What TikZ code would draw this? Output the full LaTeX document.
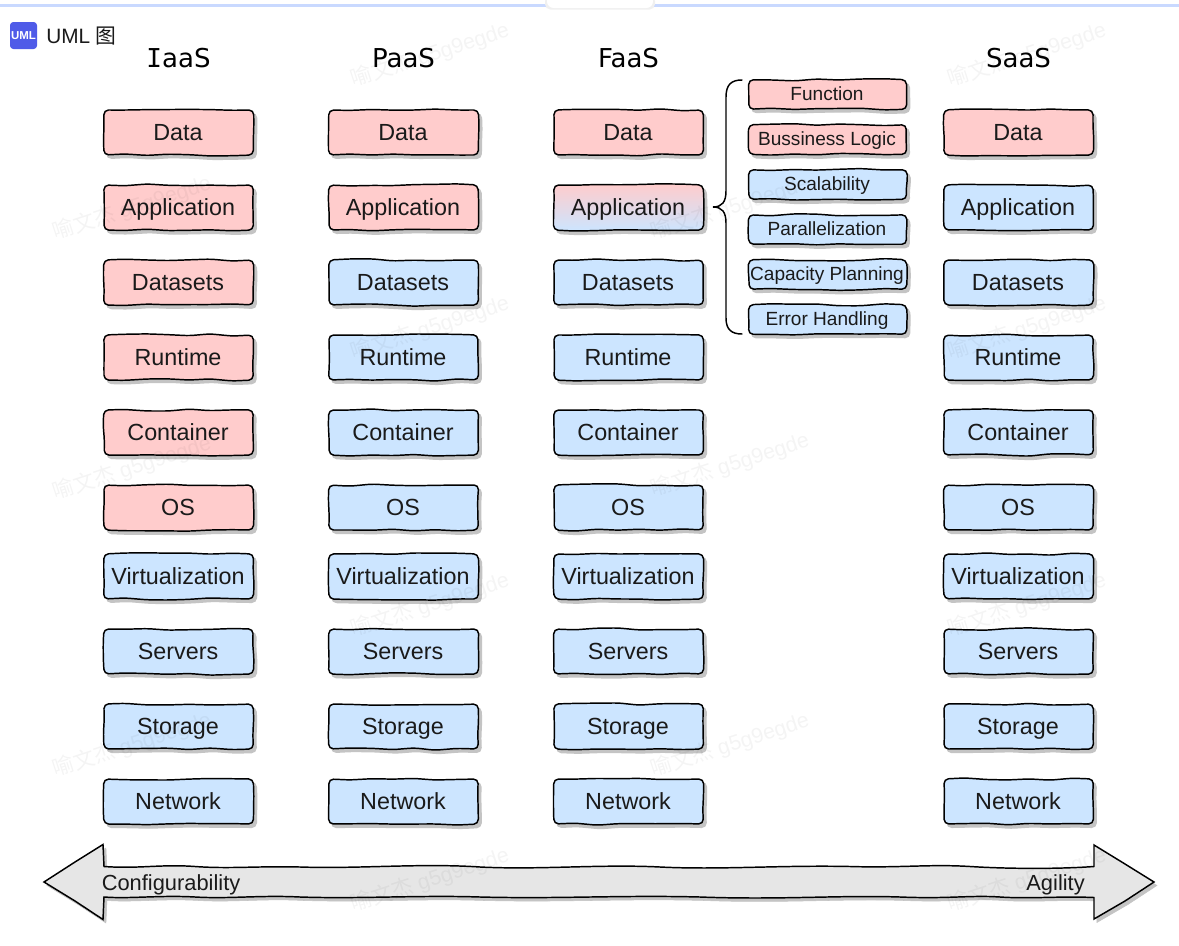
\documentclass[tikz,border=0pt]{standalone}
\usepackage{fontspec}
\setmainfont{Liberation Sans}
\newfontfamily\cjk{Noto Sans CJK SC}
\newfontfamily\titlefont{DejaVu Sans}
\newfontfamily\titlemono{DejaVu Sans Mono}
\usetikzlibrary{shadows,calc}
\definecolor{pinkc}{HTML}{FFCCCC}
\definecolor{bluec}{HTML}{CCE5FF}
\definecolor{greyc}{HTML}{E6E6E6}
\definecolor{shadowc}{HTML}{C4C4C4}
\definecolor{inkc}{HTML}{1A1A1A}
\definecolor{topline}{HTML}{C9D9FF}
\definecolor{badge}{HTML}{4F5BE8}
\tikzset{
  edge/.style={draw=black,line width=1.1pt,line join=round,rounded corners=3.5pt},
  shade off/.style={preaction={fill=shadowc,draw=shadowc,line width=1pt,
     transform canvas={shift={(2.2pt,-2.6pt)}}}},
  biglabel/.style={font=\fontsize{17.5pt}{20pt}\selectfont,text=inkc,inner sep=0pt,text height=12.5pt,text depth=3.5pt},
  smalllabel/.style={font=\fontsize{14.3pt}{18pt}\selectfont,text=inkc,inner sep=0pt,text height=11pt,text depth=3pt},
  arrowlabel/.style={font=\fontsize{16.4pt}{19pt}\selectfont,text=inkc,inner sep=0pt,text height=12pt,text depth=3.5pt},
  coltitle/.style={font=\titlefont\fontsize{19.5pt}{23pt}\selectfont,text=black,inner sep=0pt},
  mark text/.style={font=\fontsize{16pt}{19pt}\selectfont,text=black,opacity=0.045,rotate=18,inner sep=0pt},
  tag text/.style={text=inkc,inner sep=0pt},
}
% #1 cx, #2 cy, #3 w, #4 h, #5 fill options
\newcommand\wobblepath[5]{%
  \pgfmathsetmacro\xl{#1-#3/2}\pgfmathsetmacro\xr{#1+#3/2}%
  \pgfmathsetmacro\yt{#2-#4/2}\pgfmathsetmacro\yb{#2+#4/2}%
  \path[edge,shade off,#5] (\xl,\yt)
    foreach \t in {.14,.29,.43,.57,.71,.86} { -- ({\xl+\t*#3},{\yt+1.2*rand}) }
    -- ({\xr+0.4*rand},\yt)
    foreach \t in {.33,.67} { -- ({\xr+0.7*rand},{\yt+\t*#4}) }
    -- (\xr,\yb)
    foreach \t in {.86,.71,.57,.43,.29,.14} { -- ({\xl+\t*#3},{\yb+1.2*rand}) }
    -- ({\xl+0.4*rand},\yb)
    foreach \t in {.67,.33} { -- ({\xl+0.7*rand},{\yt+\t*#4}) }
    -- cycle;%
}
\begin{document}
\begin{tikzpicture}[x=0.75pt,y=-0.75pt]
\pgfmathsetseed{11}
\useasboundingbox (0,0) rectangle (1179,946);
\fill[white] (0,0) rectangle (1179,946);

% top bar of the page
\fill[topline] (0,4.3) rectangle (1179,6.8);
\fill[black!6,rounded corners=4pt] (545,-4) rectangle (655,9.5);
\fill[white,rounded corners=5pt] (547,-6) rectangle (653,8);

% badge and tag
\fill[badge,rounded corners=2.5pt] (10,22) rectangle (37,49);
\node[inner sep=0pt,text=white] (badge) at (23.5,35.5) {\fontsize{8.6pt}{10pt}\selectfont\bfseries UML};
\node[tag text,anchor=west] (tag) at (46,36.5) {\fontsize{15.6pt}{18pt}\selectfont UML \cjk 图};

% column titles
\node[coltitle] (t1) at (178.5,58) {{\titlemono I}aaS};
\node[coltitle] (t2) at (403.5,58) {PaaS};
\node[coltitle] (t3) at (628.5,58) {FaaS};
\node[coltitle] (t4) at (1018.5,58) {SaaS};

% stacks
\foreach \col/\cx/\npink in {i/179/6,p/404/2,f/629/1,s/1019/1}{
  \foreach \lab/\cy [count=\i] in {Data/132.5,Application/207.5,Datasets/282.5,Runtime/357.5,Container/432.5,OS/507.5,Virtualization/576.5,Servers/651.5,Storage/726.5,Network/801.5}{
    \ifnum\i>\npink
      \tikzset{curfill/.style={fill=bluec}}
    \else
      \tikzset{curfill/.style={fill=pinkc}}
    \fi
    \ifnum\cx=629 \ifnum\i=2
      \tikzset{curfill/.style={top color=pinkc,bottom color=bluec}}
    \fi\fi
    \wobblepath{\cx-0.4}{\cy}{149.5}{45}{curfill}
    \node[biglabel] (\col-\i) at (\cx-1,\cy+1.5) {\lab};
  }
}

% small boxes
\foreach \lab/\cy/\fc [count=\i] in {Function/94/pinkc,Bussiness Logic/139/pinkc,Scalability/184/bluec,Parallelization/229/bluec,Capacity Planning/274/bluec,Error Handling/319/bluec}{
  \wobblepath{827.7}{\cy.5}{158}{29.5}{fill=\fc}
  \node[smalllabel] (d-\i) at (827,\cy+1.5) {\lab};
}

% brace
\coordinate (bt) at (742,80);
\coordinate (bb) at (742,334);
\coordinate (bm) at (713,207);
\draw[line width=1.1pt,line cap=round] (bt) .. controls (732,80) and (726,84) .. (726,97)
  -- (726,191) .. controls (726,202) and (722,207) .. (bm)
  .. controls (722,207) and (726,212) .. (726,223)
  -- (726,318) .. controls (726,330) and (732,334) .. (bb);

% double arrow
\path[draw=black,line width=1.1pt,line join=miter,fill=greyc,
      preaction={fill=shadowc,draw=shadowc,transform canvas={shift={(2.2pt,-2.6pt)}}}]
  (44,882) -- (75,862) -- (103,844.5) -- (104,866.5)
  .. controls (140,869) and (160,864) .. (195,866.5)
  .. controls (230,869) and (255,866) .. (300,867)
  .. controls (360,869) and (420,863) .. (480,867)
  .. controls (540,870) and (600,864) .. (660,867)
  .. controls (720,870) and (780,865) .. (850,866.5)
  .. controls (900,868) and (930,864) .. (970,866.5)
  .. controls (1010,869) and (1060,869) .. (1094,866.5)
  -- (1094,845) -- (1125,864) -- (1154,882) -- (1125,901) -- (1094,919) -- (1094,897.5)
  .. controls (1060,896) and (1030,899) .. (1000,897)
  .. controls (970,895) and (950,899) .. (900,897)
  .. controls (840,895) and (780,900) .. (700,897)
  .. controls (620,895) and (560,899) .. (480,897)
  .. controls (420,895) and (360,899) .. (300,897)
  .. controls (260,895) and (230,899) .. (195,897)
  .. controls (160,895) and (130,899) .. (104,897)
  -- (103,919.5) -- (75,901) -- cycle;
\node[arrowlabel,anchor=west] (cfg) at (101.5,885) {Configurability};
\node[arrowlabel,anchor=east] (agi) at (1085,885) {Agility};

% watermark
\foreach \wx/\wy [count=\k] in {430/55,1027/55,132/208,730/208,430/328,1027/328,132/468,730/465,430/605,1027/605,132/745,730/745,430/880,1027/880}{
  \node[mark text] (w\k) at (\wx,\wy) {{\cjk 喻文杰} g5g9egde};
}
\end{tikzpicture}
\end{document}
